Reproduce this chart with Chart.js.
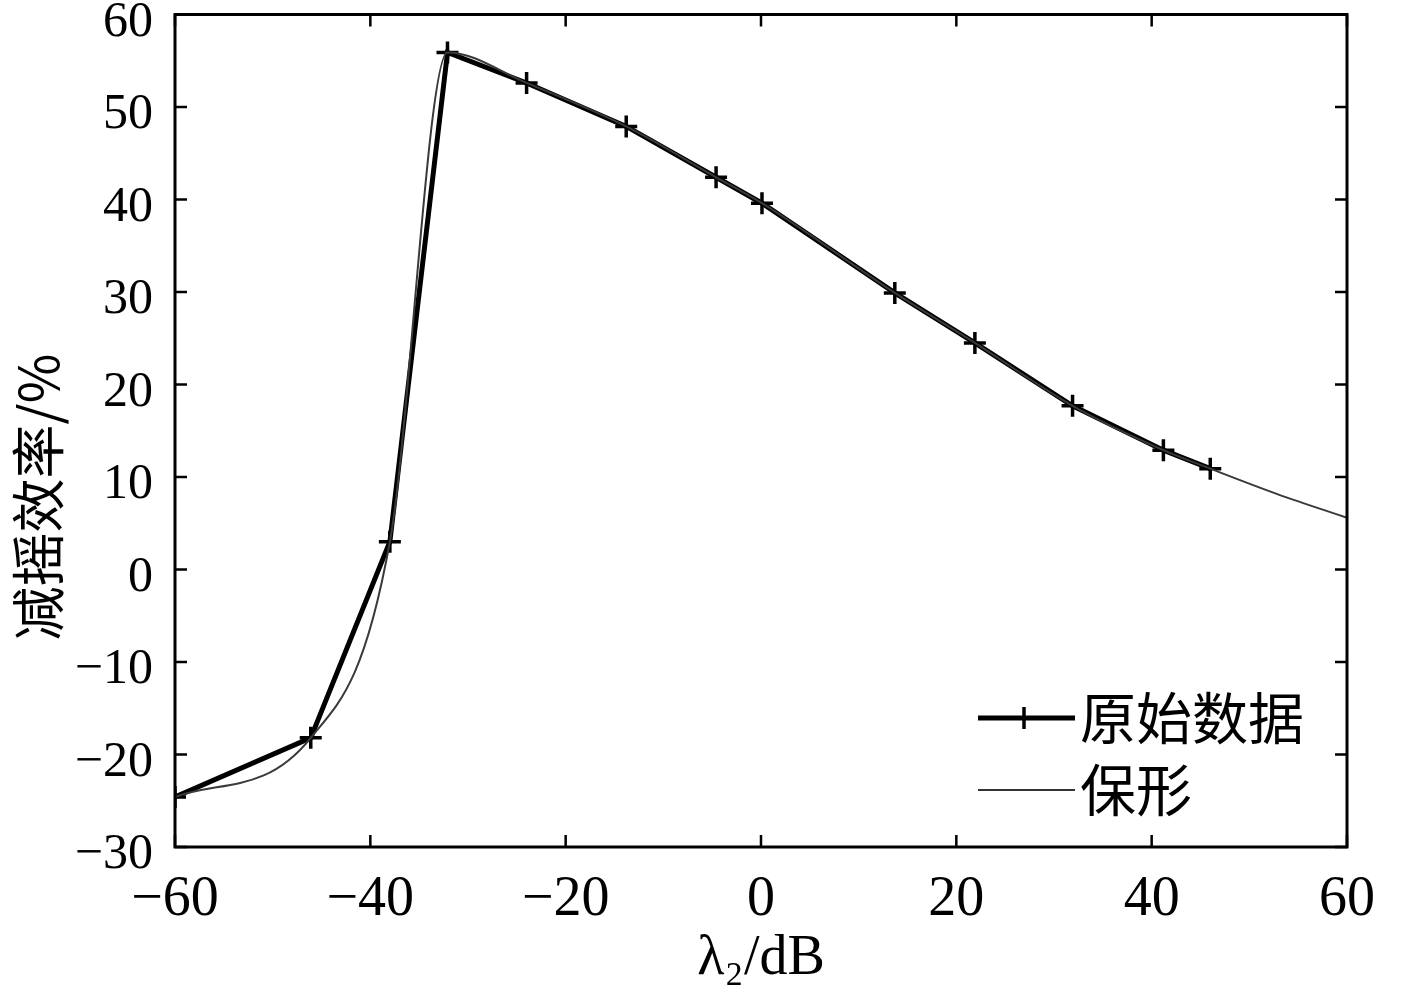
<!DOCTYPE html>
<html>
<head>
<meta charset="utf-8">
<script src="https://cdn.jsdelivr.net/npm/chart.js@4/dist/chart.umd.min.js"></script>
<style>
  html, body { margin: 0; padding: 0; background: #fff; }
  #wrap { width: 1417px; height: 999px; }
</style>
</head>
<body>
<div id="wrap"><canvas id="rollChart"></canvas></div>
<script>
// 原始数据
var lambda2 = [-60, -46.1, -38, -32.1, -24, -13.8, -4.6, 0.1, 13.7, 21.9, 31.9, 41.2, 46];
var rawEff = [-24.6, -18.2, 3.0, 55.9, 52.6, 47.9, 42.4, 39.6, 29.9, 24.5, 17.7, 12.9, 10.9];
// 保形 curve: passes through the data and goes on to 60 dB
var shapeX = [-60, -46.1, -38, -32.1, -24, -13.8, -4.6, 0.1, 13.7, 21.9, 31.9, 41.2, 46, 53, 60];
var shapeY = [-24.6, -18.2, 3.0, 55.9, 52.6, 47.9, 42.4, 39.6, 29.9, 24.5, 17.7, 12.9, 10.9, 8.1, 5.6];
var xTicks = [-60, -40, -20, 0, 20, 40, 60];
var yTicks = [-30, -20, -10, 0, 10, 20, 30, 40, 50, 60];
var yTitle = '减摇效率/%';

var serif = "'Liberation Serif', 'Times New Roman', serif";
var cjk = "'Noto Sans CJK SC', serif";

function pts(xs, ys) {
  var out = [];
  for (var i = 0; i < xs.length; i++) out.push({x: xs[i], y: ys[i]});
  return out;
}
function fmt(v) {
  return v < 0 ? '\u2212' + Math.abs(v) : String(v);
}

// box + inward ticks on all four sides, y title, and the legend inside the plot
var framePlugin = {
  id: 'frame',
  afterDraw: function (chart) {
    var ctx = chart.ctx, a = chart.chartArea;
    var xs = chart.scales.x, ys = chart.scales.y;
    var len = 12;
    ctx.save();
    ctx.strokeStyle = '#000';
    ctx.lineWidth = 3;
    ctx.strokeRect(a.left, a.top, a.right - a.left, a.bottom - a.top);
    ctx.lineWidth = 2.5;
    ctx.beginPath();
    xTicks.forEach(function (t) {
      var px = xs.getPixelForValue(t);
      ctx.moveTo(px, a.bottom); ctx.lineTo(px, a.bottom - len);
      ctx.moveTo(px, a.top); ctx.lineTo(px, a.top + len);
    });
    yTicks.forEach(function (t) {
      var py = ys.getPixelForValue(t);
      ctx.moveTo(a.left, py); ctx.lineTo(a.left + len, py);
      ctx.moveTo(a.right, py); ctx.lineTo(a.right - len, py);
    });
    ctx.stroke();

    // y axis title
    ctx.save();
    ctx.translate(38, 497);
    ctx.rotate(-Math.PI / 2);
    ctx.font = '54px ' + cjk;
    ctx.textAlign = 'center';
    ctx.textBaseline = 'middle';
    ctx.fillStyle = '#000';
    ctx.fillText(yTitle, 0, 0);
    ctx.restore();

    // legend
    var lx = 978, ly = 718, gap = 72;
    var ds = chart.data.datasets;
    ctx.font = '56px ' + cjk;
    ctx.textBaseline = 'middle';
    ctx.fillStyle = '#000';
    // 原始数据
    ctx.strokeStyle = '#000';
    ctx.lineWidth = 5;
    ctx.beginPath(); ctx.moveTo(lx, ly); ctx.lineTo(lx + 97, ly); ctx.stroke();
    ctx.lineWidth = 3.5;
    ctx.beginPath(); ctx.moveTo(lx + 46, ly - 11); ctx.lineTo(lx + 46, ly + 11); ctx.stroke();
    ctx.fillText(ds[1].label, lx + 102, ly);
    // 保形
    ctx.strokeStyle = '#333';
    ctx.lineWidth = 2;
    ctx.beginPath(); ctx.moveTo(lx, ly + gap); ctx.lineTo(lx + 97, ly + gap); ctx.stroke();
    ctx.fillText(ds[0].label, lx + 102, ly + gap);
    ctx.restore();
  }
};

var ctx = document.getElementById('rollChart').getContext('2d');
var chart = new Chart(ctx, {
  type: 'line',
  data: {
    datasets: [{
      label: '保形',
      data: pts(shapeX, shapeY),
      borderColor: '#3a3a3a',
      borderWidth: 2,
      pointRadius: 0,
      cubicInterpolationMode: 'monotone',
      fill: false
    }, {
      label: '原始数据',
      data: pts(lambda2, rawEff),
      borderColor: '#000',
      borderWidth: 5,
      pointStyle: 'cross',
      pointRadius: 11,
      pointBorderWidth: 3.5,
      pointBorderColor: '#000',
      tension: 0,
      fill: false
    }]
  },
  options: {
    responsive: true,
    maintainAspectRatio: false,
    animation: false,
    layout: { padding: { left: 0, right: 70, top: 13, bottom: 0 } },
    plugins: { legend: { display: false }, tooltip: { enabled: false } },
    scales: {
      x: {
        type: 'linear',
        min: -60, max: 60,
        grid: { display: false },
        border: { display: false },
        afterBuildTicks: function (s) { s.ticks = xTicks.map(function (v) { return {value: v}; }); },
        afterFit: function (s) { s.height = 152; s.paddingLeft = 0; s.paddingRight = 0; },
        ticks: {
          color: '#000',
          padding: 12,
          maxRotation: 0,
          font: { family: serif, size: 56 },
          callback: function (v) { return fmt(v); }
        },
        title: {
          display: true,
          text: 'λ₂/dB',
          color: '#000',
          font: { family: serif, size: 56 },
          padding: { top: 2, bottom: 6 }
        }
      },
      y: {
        type: 'linear',
        min: -30, max: 60,
        grid: { display: false },
        border: { display: false },
        afterBuildTicks: function (s) { s.ticks = yTicks.map(function (v) { return {value: v}; }); },
        afterFit: function (s) { s.width = 175; s.paddingTop = 0; s.paddingBottom = 0; },
        ticks: {
          color: '#000',
          padding: 14,
          labelOffset: 8,
          font: { family: serif, size: 50 },
          callback: function (v) { return fmt(v); }
        },
        title: { display: false }
      }
    }
  },
  plugins: [framePlugin]
});
</script>
</body>
</html>
